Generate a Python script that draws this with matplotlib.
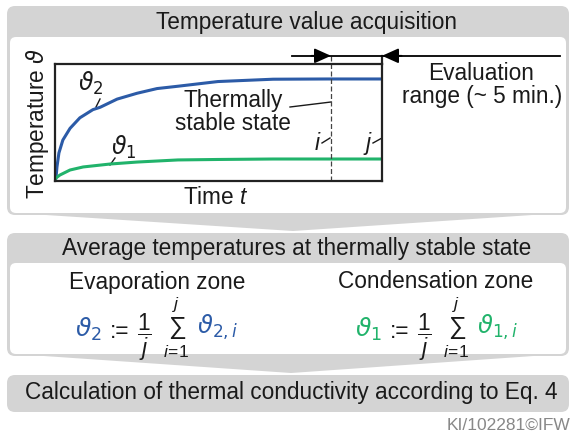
import matplotlib.pyplot as plt
from matplotlib.patches import FancyBboxPatch, Polygon

plt.rcParams['font.family'] = ['Liberation Sans', 'DejaVu Sans']
plt.rcParams['mathtext.fontset'] = 'custom'
plt.rcParams['mathtext.rm'] = 'Liberation Sans'
plt.rcParams['mathtext.it'] = 'Liberation Sans:italic'
plt.rcParams['mathtext.fallback'] = 'stixsans'

# curves (time: 0..10 across the frame, temperature: 0..100 of frame height)
time_hot = [0, 0.03, 0.06, 0.12, 0.24, 0.46, 0.76, 1.16, 1.38, 1.9, 2.51, 3.12, 3.76, 4.98, 6.67, 8.32, 10]
temp_hot = [0, 2.6, 12, 24, 35, 45, 54, 61, 63, 70, 75, 79, 81, 85, 87, 87.2, 87.2]
time_cold = [0, 0.03, 0.15, 0.46, 0.86, 1.68, 2.51, 3.76, 4.98, 6.67, 8.32, 10]
temp_cold = [0, 2.6, 5.1, 9.4, 12, 14.5, 16.2, 18, 18.4, 18.8, 18.8, 18.8]
t_i = 8.44
t_j = 10.0
arrow_level = 107

BLUE = '#2c5ba7'
GREEN = '#21b36b'
GRAY = '#d4d4d4'
TXT = '#1a1a1a'
FS = 16.3

fig = plt.figure(figsize=(5.7, 4.37), dpi=100)
ax = fig.add_axes([0, 0, 1, 1])
ax.set_xlim(0, 570)
ax.set_ylim(437, 0)
ax.axis('off')


def panel(y0, y1, head):
    ax.add_patch(FancyBboxPatch((7, y0), 562, y1 - y0, boxstyle='round,pad=0,rounding_size=8',
                                fc=GRAY, ec='none'))
    if head:
        ax.add_patch(FancyBboxPatch((10, head), 556, y1 - head - 2, boxstyle='round,pad=0,rounding_size=6',
                                    fc='white', ec='none'))


def theta(x, y, sub, col, size=FS):
    ax.text(x, y, r'$\vartheta_{\mathit{%s}}$' % sub, ha='left', va='baseline', fontsize=size, color=col,
            math_fontfamily='dejavusans')


panel(6, 215, 37)
ax.add_patch(Polygon([(15, 213), (562, 213), (293, 231)], closed=True, fc=GRAY, ec='none'))
panel(233, 356, 263)
ax.add_patch(Polygon([(15, 354), (562, 354), (291, 373)], closed=True, fc=GRAY, ec='none'))
panel(375, 412, None)

# headers
ax.text(306, 22, 'Temperature value acquisition', ha='center', va='center', fontsize=FS, color=TXT)
ax.text(297, 248, 'Average temperatures at thermally stable state', ha='center', va='center', fontsize=FS, color=TXT)
ax.text(291, 393, 'Calculation of thermal conductivity according to Eq. 4', ha='center', va='center',
        fontsize=FS, color=TXT)
ax.text(447, 425, 'KI/102281©IFW', ha='left', va='center', fontsize=12.5, color='#888888')

# plot labels
ax.text(38, 123, r'Temperature $\vartheta$', rotation=90, ha='center', va='center', fontsize=FS, color=TXT,
        math_fontfamily='dejavusans')
ax.text(216, 197, r'Time $t$', ha='center', va='center', fontsize=FS, color=TXT)
theta(78, 91, '2', TXT, 17)
ax.plot([100, 96], [99, 107], color=TXT, lw=1)
theta(111, 155, '1', TXT, 17)
ax.plot([115, 110], [158, 165], color=TXT, lw=1)
ax.text(233, 100, 'Thermally', ha='center', va='center', fontsize=FS, color=TXT)
ax.text(233, 123, 'stable state', ha='center', va='center', fontsize=FS, color=TXT)
ax.plot([290, 331], [107, 102], color=TXT, lw=1)
ax.text(318, 150, r'$i$', ha='center', va='baseline', fontsize=FS, color=TXT)
ax.plot([322, 330], [143, 138], color=TXT, lw=1)
ax.text(368, 150, r'$j$', ha='center', va='baseline', fontsize=FS, color=TXT)
ax.plot([373, 382], [143, 138], color=TXT, lw=1)
ax.text(481, 73, 'Evaluation', ha='center', va='center', fontsize=FS, color=TXT)
ax.text(482, 97, 'range (~ 5 min.)', ha='center', va='center', fontsize=FS, color=TXT)

# second panel
ax.text(157, 282, 'Evaporation zone', ha='center', va='center', fontsize=FS, color=TXT)
ax.text(436, 282, 'Condensation zone', ha='center', va='center', fontsize=FS, color=TXT)
for x0, idx, col in [(75, '2', BLUE), (355, '1', GREEN)]:
    theta(x0, 337, idx, col, 18)
    ax.text(x0 + 35, 332, ':=', ha='left', va='center', fontsize=FS, color=TXT)
    ax.text(x0 + 69, 337, r'$\dfrac{1}{j}$', ha='center', va='center', fontsize=FS, color=TXT)
    ax.text(x0 + 101, 327, r'$\sum_{i\!=\!1}^{j}$', ha='center', va='center', fontsize=18, color=TXT)
    theta(x0 + 122, 334, idx + ',i', col, 17.5)

# the time/temperature frame
pa = fig.add_axes([55 / 570, 1 - 181 / 437, 327 / 570, 117 / 437])
pa.set_facecolor('none')
pa.set_xlim(0, 10)
pa.set_ylim(0, 100)
pa.set_xticks([])
pa.set_yticks([])
for s in pa.spines.values():
    s.set_linewidth(1.6)
    s.set_color('#222222')

pa.plot(time_hot, temp_hot, color=BLUE, lw=2.2, solid_capstyle='butt', solid_joinstyle='round')
pa.plot(time_cold, temp_cold, color=GREEN, lw=2.2, solid_capstyle='butt', solid_joinstyle='round')
pa.plot([t_i, t_i], [0, arrow_level], color='#444444', lw=0.9, ls=(0, (4, 2)), clip_on=False)
pa.plot([t_j, t_j], [100, arrow_level], color='#222222', lw=1.6, clip_on=False)
pa.plot([7.25, 15.44], [arrow_level, arrow_level], color='k', lw=1.3, clip_on=False)
head = dict(arrowstyle='-|>,head_length=1.0,head_width=0.45', mutation_scale=10, color='k', lw=1.3,
            shrinkA=0, shrinkB=0)
pa.annotate('', xy=(t_i, arrow_level), xytext=(t_i - 0.6, arrow_level), arrowprops=head, annotation_clip=False)
pa.annotate('', xy=(t_j, arrow_level), xytext=(t_j + 0.6, arrow_level), arrowprops=head, annotation_clip=False)

fig.savefig('out.png', dpi=100)
